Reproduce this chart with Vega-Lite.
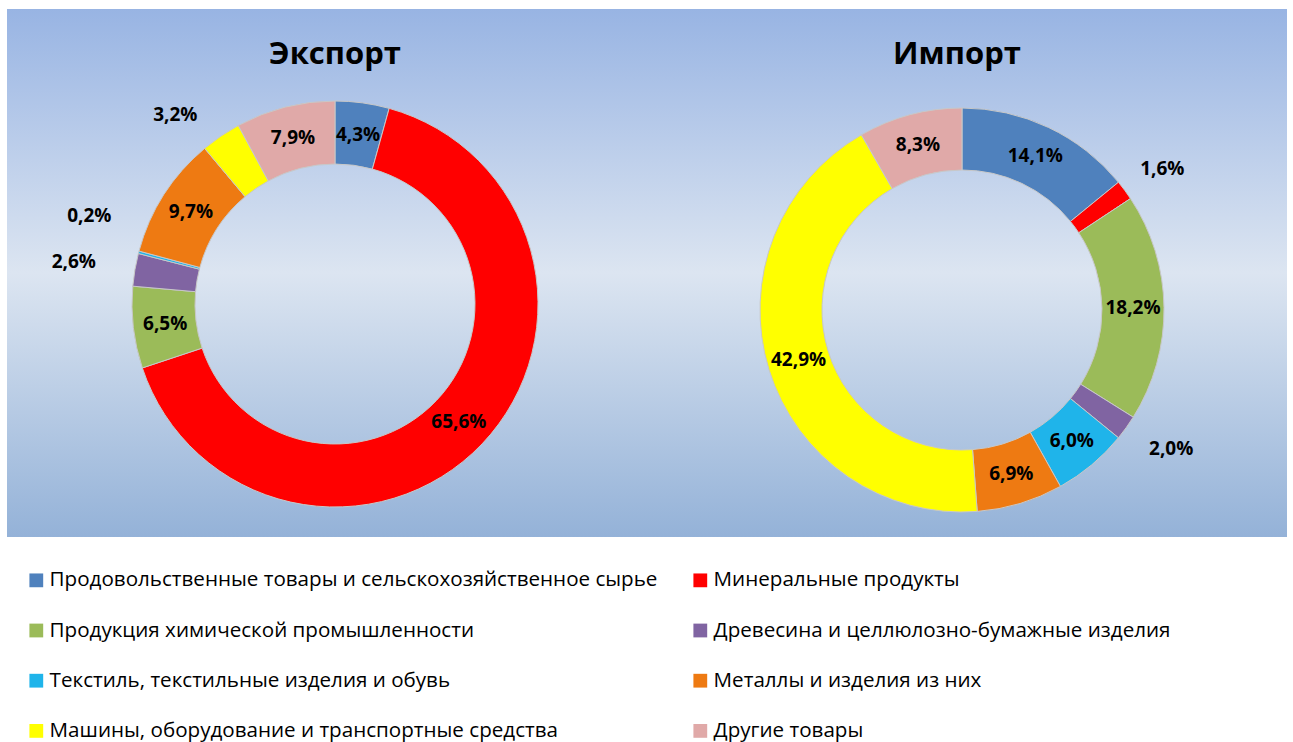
{
  "$schema": "https://vega.github.io/schema/vega-lite/v6.json",
  "padding": {"left": 7, "top": 9, "right": 0, "bottom": 0},
  "background": "#ffffff",
  "datasets": {
    "exp": [
      {"idx": 1, "category": "Продовольственные товары и сельскохозяйственное сырье", "share": 0.043},
      {"idx": 2, "category": "Минеральные продукты", "share": 0.656},
      {"idx": 3, "category": "Продукция химической промышленности", "share": 0.065},
      {"idx": 4, "category": "Древесина и целлюлозно-бумажные изделия", "share": 0.026},
      {"idx": 5, "category": "Текстиль, текстильные изделия и обувь", "share": 0.002},
      {"idx": 6, "category": "Металлы и изделия из них", "share": 0.097},
      {"idx": 7, "category": "Машины, оборудование и транспортные средства", "share": 0.032},
      {"idx": 8, "category": "Другие товары", "share": 0.079}
    ],
    "imp": [
      {"idx": 1, "category": "Продовольственные товары и сельскохозяйственное сырье", "share": 0.141},
      {"idx": 2, "category": "Минеральные продукты", "share": 0.016},
      {"idx": 3, "category": "Продукция химической промышленности", "share": 0.182},
      {"idx": 4, "category": "Древесина и целлюлозно-бумажные изделия", "share": 0.020},
      {"idx": 5, "category": "Текстиль, текстильные изделия и обувь", "share": 0.060},
      {"idx": 6, "category": "Металлы и изделия из них", "share": 0.069},
      {"idx": 7, "category": "Машины, оборудование и транспортные средства", "share": 0.429},
      {"idx": 8, "category": "Другие товары", "share": 0.083}
    ]
  },
  "spacing": 0,
  "hconcat": [
    {
      "width": 640,
      "height": 528,
      "data": {"name": "exp"},
      "title": {"text": "Экспорт", "frame": "group", "offset": -86, "baseline": "alphabetic", "dx": 8},
      "view": {"stroke": null, "fill": {"gradient": "linear", "x1": 0, "y1": 0, "x2": 0, "y2": 1, "stops": [{"offset": 0, "color": "#98B4E3"}, {"offset": 0.5, "color": "#DCE5F1"}, {"offset": 1, "color": "#94B2D8"}]}},
      "encoding": {
        "theta": {"field": "share", "type": "quantitative", "stack": true},
        "order": {"field": "idx", "type": "quantitative"}
      },
      "layer": [
        {
          "mark": {"type": "arc", "outerRadius": 203, "innerRadius": 140, "xOffset": 8, "yOffset": 31, "stroke": "#c8c8c8", "strokeWidth": 1},
          "encoding": {"color": {"field": "category", "type": "nominal",
            "scale": {"domain": ["Продовольственные товары и сельскохозяйственное сырье", "Минеральные продукты", "Продукция химической промышленности", "Древесина и целлюлозно-бумажные изделия", "Текстиль, текстильные изделия и обувь", "Металлы и изделия из них", "Машины, оборудование и транспортные средства", "Другие товары"],
                      "range": ["#4F81BD", "#FF0000", "#9BBB59", "#8064A2", "#1FB4EA", "#EE7A12", "#FFFF00", "#E0A9A8"]}}}
        },
        {
          "mark": {"type": "text", "radius": 171, "xOffset": 8, "yOffset": 31, "font": "Open Sans", "fontWeight": "bold", "fontSize": 19, "fill": "#000000", "align": "center", "baseline": "middle"},
          "encoding": {
            "text": {"field": "share", "type": "quantitative", "format": ".1%"},
            "detail": {"field": "category", "type": "nominal"},
            "opacity": {"condition": {"test": "datum.share >= 0.04", "value": 1}, "value": 0}
          }
        },
        {
          "mark": {"type": "text", "radius": 265, "xOffset": 8, "yOffset": 34, "font": "Open Sans", "fontWeight": "bold", "fontSize": 19, "fill": "#000000", "align": "center", "baseline": "middle"},
          "encoding": {
            "text": {"field": "share", "type": "quantitative", "format": ".1%"},
            "detail": {"field": "category", "type": "nominal"},
            "opacity": {"condition": {"test": "datum.idx == 4", "value": 1}, "value": 0}
          }
        },
        {
          "mark": {"type": "text", "radius": 245, "xOffset": -14, "yOffset": 45, "font": "Open Sans", "fontWeight": "bold", "fontSize": 19, "fill": "#000000", "align": "center", "baseline": "middle"},
          "encoding": {
            "text": {"field": "share", "type": "quantitative", "format": ".1%"},
            "detail": {"field": "category", "type": "nominal"},
            "opacity": {"condition": {"test": "datum.idx == 7", "value": 1}, "value": 0}
          }
        },
        {
          "mark": {"type": "text", "radius": 252, "xOffset": 6, "yOffset": 7, "font": "Open Sans", "fontWeight": "bold", "fontSize": 19, "fill": "#000000", "align": "center", "baseline": "middle"},
          "encoding": {
            "text": {"field": "share", "type": "quantitative", "format": ".1%"},
            "detail": {"field": "category", "type": "nominal"},
            "opacity": {"condition": {"test": "datum.idx == 5", "value": 1}, "value": 0}
          }
        }
      ]
    },
    {
      "width": 640,
      "height": 528,
      "data": {"name": "imp"},
      "title": {"text": "Импорт", "frame": "group", "offset": -86, "baseline": "alphabetic", "dx": -10},
      "view": {"stroke": null, "fill": {"gradient": "linear", "x1": 0, "y1": 0, "x2": 0, "y2": 1, "stops": [{"offset": 0, "color": "#98B4E3"}, {"offset": 0.5, "color": "#DCE5F1"}, {"offset": 1, "color": "#94B2D8"}]}},
      "encoding": {
        "theta": {"field": "share", "type": "quantitative", "stack": true},
        "order": {"field": "idx", "type": "quantitative"}
      },
      "layer": [
        {
          "mark": {"type": "arc", "outerRadius": 202, "innerRadius": 140, "xOffset": -5, "yOffset": 37, "stroke": "#c8c8c8", "strokeWidth": 1},
          "encoding": {"color": {"field": "category", "type": "nominal"}}
        },
        {
          "mark": {"type": "text", "radius": 171, "xOffset": -5, "yOffset": 37, "font": "Open Sans", "fontWeight": "bold", "fontSize": 19, "fill": "#000000", "align": "center", "baseline": "middle"},
          "encoding": {
            "text": {"field": "share", "type": "quantitative", "format": ".1%"},
            "detail": {"field": "category", "type": "nominal"},
            "opacity": {"condition": {"test": "datum.share >= 0.04", "value": 1}, "value": 0}
          }
        },
        {
          "mark": {"type": "text", "radius": 250, "xOffset": -6, "yOffset": 44, "font": "Open Sans", "fontWeight": "bold", "fontSize": 19, "fill": "#000000", "align": "center", "baseline": "middle"},
          "encoding": {
            "text": {"field": "share", "type": "quantitative", "format": ".1%"},
            "detail": {"field": "category", "type": "nominal"},
            "opacity": {"condition": {"test": "datum.idx == 2", "value": 1}, "value": 0}
          }
        },
        {
          "mark": {"type": "text", "radius": 250, "xOffset": 1, "yOffset": 30, "font": "Open Sans", "fontWeight": "bold", "fontSize": 19, "fill": "#000000", "align": "center", "baseline": "middle"},
          "encoding": {
            "text": {"field": "share", "type": "quantitative", "format": ".1%"},
            "detail": {"field": "category", "type": "nominal"},
            "opacity": {"condition": {"test": "datum.idx == 4", "value": 1}, "value": 0}
          }
        }
      ]
    }
  ],
  "resolve": {"scale": {"color": "shared", "theta": "independent"}},
  "config": {
    "locale": {"number": {"decimal": ",", "thousands": " ", "grouping": [3], "currency": ["", " ₽"]}},
    "view": {"stroke": null},
    "title": {"font": "Open Sans", "fontSize": 31, "fontWeight": "bold", "color": "#000000", "anchor": "middle"},
    "legend": {
      "orient": "none",
      "legendX": 19,
      "legendY": 561,
      "columns": 2,
      "title": null,
      "symbolType": "square",
      "symbolSize": 190,
      "symbolStrokeWidth": 0,
      "labelFont": "Open Sans",
      "labelFontSize": 20.6,
      "labelColor": "#000000",
      "labelOffset": 3,
      "labelLimit": 0,
      "rowPadding": 29.2,
      "columnPadding": 32,
      "direction": "horizontal"
    }
  }
}
